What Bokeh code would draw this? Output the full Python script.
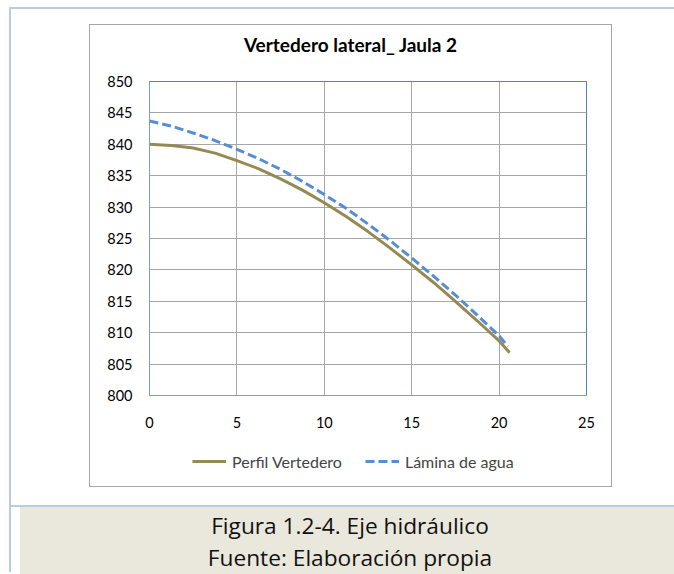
from bokeh.plotting import figure
from bokeh.models import Range1d, FixedTicker, Legend, LegendItem, Div
from bokeh.layouts import column
from bokeh.embed import file_html
from bokeh.resources import INLINE

# ---- data ----
x_perfil = [0, 1.25, 2.5, 3.75, 5, 6.25, 7.5, 8.75, 10, 11.25, 12.5, 13.75, 15, 16.25,
            17.5, 18.75, 20, 20.6]
y_perfil = [840.0, 839.8, 839.4, 838.6, 837.4, 836.1, 834.5, 832.7, 830.7, 828.5, 826.1,
            823.5, 820.8, 818.0, 815.0, 811.9, 808.7, 806.8]
x_lamina = [0, 1.25, 2.5, 3.75, 5, 6.25, 7.5, 8.75, 10, 11.25, 12.5, 13.75, 15, 16.25,
            17.5, 18.75, 20, 20.5]
y_lamina = [843.7, 842.9, 841.8, 840.6, 839.2, 837.7, 836.0, 834.1, 832.0, 829.8, 827.3,
            824.7, 821.9, 819.0, 816.0, 812.8, 809.5, 807.8]
x_ticks = [0, 5, 10, 15, 20, 25]
y_ticks = [800, 805, 810, 815, 820, 825, 830, 835, 840, 845, 850]
title_text = "Vertedero lateral_ Jaula 2"
series_names = ["Perfil Vertedero", "Lámina de agua"]
caption_lines = ["Figura 1.2-4. Eje hidráulico", "Fuente: Elaboración propia"]

OLIVE = "#948a54"
BLUE = "#558ed5"
DASH = "9 4"

# ---- chart title (HTML text) ----
title_div = Div(
    text=("<div style=\"width:521px;text-align:center;font-family:Lato;font-weight:bold;"
          "font-size:19px;line-height:24px;padding-top:8px;color:#000000;\">"
          + title_text + "</div>"),
    width=521, height=46, margin=0)

# ---- main plot ----
p = figure(width=521, height=369, output_backend="svg", toolbar_location=None,
           x_range=Range1d(0, 25), y_range=Range1d(800, 850),
           min_border_left=59, min_border_right=25,
           min_border_top=10, min_border_bottom=45,
           background_fill_color="white", border_fill_color="white", margin=0)

p.outline_line_color = "#4f81bd"
p.outline_line_width = 1

for ax in (p.xaxis[0], p.yaxis[0]):
    ax.axis_line_color = "#7f9cc4"
    ax.major_tick_line_color = None
    ax.minor_tick_line_color = None
    ax.major_tick_out = 0
    ax.major_tick_in = 0
    ax.minor_tick_out = 0
    ax.minor_tick_in = 0
    ax.major_label_text_font = "Lato"
    ax.major_label_text_font_size = "14.5px"
    ax.major_label_text_color = "black"
p.xaxis[0].ticker = FixedTicker(ticks=x_ticks)
p.yaxis[0].ticker = FixedTicker(ticks=y_ticks)
p.xaxis[0].major_label_standoff = 21
p.yaxis[0].major_label_standoff = 17

p.xgrid[0].ticker = FixedTicker(ticks=x_ticks)
p.ygrid[0].ticker = FixedTicker(ticks=y_ticks)
for g in (p.xgrid[0], p.ygrid[0]):
    g.grid_line_color = "#a6a6a6"
    g.grid_line_width = 1

p.line(x_perfil, y_perfil, line_color=OLIVE, line_width=3)
p.line(x_lamina, y_lamina, line_color=BLUE, line_width=3, line_dash=DASH)

# ---- legend strip (own small canvas; its ranges keep the series out of view) ----
lf = figure(width=521, height=46, output_backend="svg", toolbar_location=None,
            x_axis_type=None, y_axis_type=None, margin=0,
            min_border_left=0, min_border_right=0, min_border_top=0, min_border_bottom=0,
            background_fill_color="white", border_fill_color="white",
            x_range=Range1d(0, 1), y_range=Range1d(0, 1))
lf.outline_line_color = None
lf.grid.visible = False
l1 = lf.line(x_perfil, y_perfil, line_color=OLIVE, line_width=3)
l2 = lf.line(x_lamina, y_lamina, line_color=BLUE, line_width=3, line_dash=DASH)
legend = Legend(items=[LegendItem(label=series_names[0], renderers=[l1]),
                       LegendItem(label=series_names[1], renderers=[l2])],
                orientation="horizontal", location=(43, 15),
                label_text_font="Lato", label_text_font_size="16px",
                glyph_width=34, glyph_height=20, label_height=20, label_standoff=6,
                spacing=23, padding=0, margin=0, border_line_color=None,
                background_fill_alpha=0)
lf.add_layout(legend, "center")

chart = column(title_div, p, lf, spacing=0, margin=(16, 0, 0, 79),
               styles={"outline": "1px solid #a6a6a6"})

cap_html = ("<div style=\"margin-left:9px;width:660px;box-sizing:border-box;background:#eae8dc;"
            "height:67px;padding-top:3px;text-align:center;font-family:'Open Sans';"
            "font-size:22.7px;line-height:32px;color:#111111;\">"
            + caption_lines[0] + "<br>" + caption_lines[1] + "</div>")
cap = Div(text=cap_html, width=663, height=67, margin=(19, 0, 0, 0),
          styles={"border-top": "2px solid #b8cce4"})

root = column(chart, cap, margin=(7, 0, 0, 9), spacing=0,
              styles={"border-top": "2px solid #b8cce4", "border-left": "2px solid #b8cce4"})

open("out.html", "w").write(file_html(root, INLINE))
